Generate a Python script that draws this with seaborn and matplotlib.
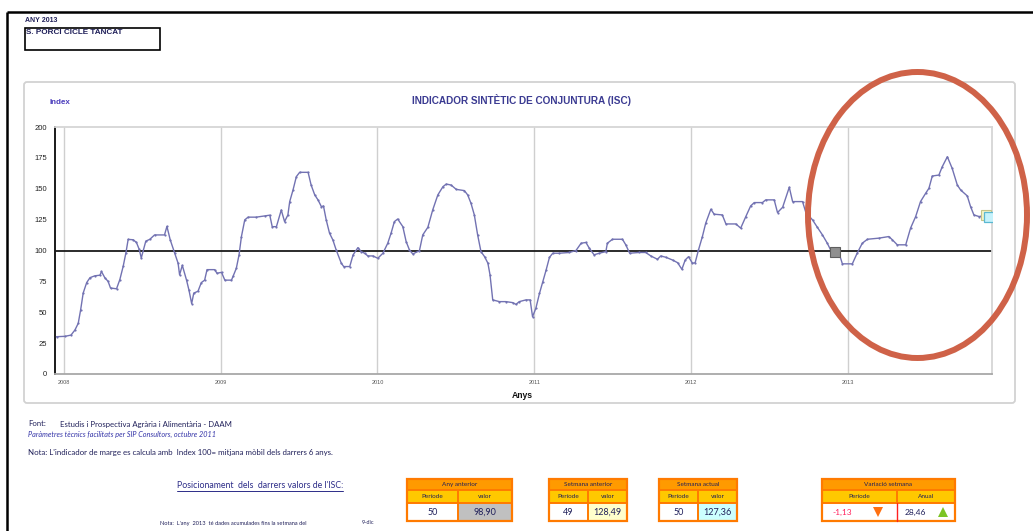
import matplotlib
matplotlib.use('Agg')
import matplotlib.pyplot as plt
import seaborn as sns
import pandas as pd
from matplotlib.patches import Ellipse, Rectangle, FancyBboxPatch
from matplotlib.ticker import MultipleLocator

# ---------------- data ----------------
# week index counted from the first week of 2008, ISC value
weeks_2008_2009 = [0.2, 3, 5, 6.3, 7.4, 8.2, 9.05, 10.2, 11.3, 12.9, 14.6, 15.1, 16.2, 17.3, 18.1, 20.1,
                   21.2, 22.3, 23.2, 23.95, 25.6, 26.7, 27.6, 28.3, 29.8, 31.1, 32.7, 36.0, 36.8, 37.9,
                   39.4, 40.5, 41.0, 41.9, 43.3, 44.1, 45.0, 45.7, 47.1, 48.2, 49.3, 50.1, 52.6, 53.4,
                   54.9, 56.0, 58.2, 58.7, 59.8, 60.7, 61.5, 62.6, 63.7, 66.4, 69.2, 70.9, 71.7, 73.1,
                   74.7, 75.8, 76.9, 77.5, 78.6, 79.7, 80.8, 83.6, 84.6, 85.8, 86.9, 88.0, 88.7, 89.6,
                   90.7, 91.8, 92.9, 94.6, 95.4, 97.4, 98.5, 100.1, 101.2, 102.3, 103.4, 105.1, 106.7, 108.4]
isc_2008_2009 = [30.2, 30.5, 31.5, 35.6, 41, 52, 65.6, 74, 78, 79.5, 80, 83, 78, 75, 69.6, 69,
                 76.5, 87.2, 98, 109, 108.7, 106.5, 101, 94, 107.6, 109, 112.6, 112.6, 119.5, 108.6,
                 97.8, 89.7, 80.3, 88, 76, 68, 57, 65.5, 67, 74, 76, 84.5, 84.5, 81.6,
                 82.3, 76, 76, 79, 85.5, 96.4, 111.3, 124.8, 127, 127, 128, 128.6, 119.3, 119.3,
                 132.8, 123.4, 128.8, 139.6, 149, 159.8, 163.3, 163.3, 153, 145, 140.9, 135.5, 136, 124.8,
                 114, 108.6, 100.5, 89.7, 87, 87, 96.4, 102.3, 99.1, 97.8, 95.6, 95.6, 93.7, 97.8]

weeks_2010_2011 = [110.0, 111.1, 112.2, 113.3, 115.0, 116.1, 117.2, 118.3, 120.5, 121.6, 123.3, 124.9,
                   126.6, 128.3, 129.4, 131.0, 132.7, 135.4, 136.5, 137.6, 138.7, 139.8, 140.9, 142.1,
                   143.2, 143.9, 144.8, 147.0, 149.2, 151.4, 152.5, 153.6, 155.8, 157.2, 158.0, 159.1,
                   160.3, 161.4, 162.5, 163.6, 164.7, 166.9, 170.2, 172.4, 174.1, 175.7, 176.8, 178.4,
                   180.1, 182.3, 182.8, 184.5, 187.8, 188.9, 190.2, 193.3, 195.5, 197.2, 199.4, 200.5,
                   202.2, 204.4, 206.1, 207.5, 208.6, 209.7, 211.0, 211.9, 213.0, 214.3, 215.4]
isc_2010_2011 = [105.9, 114, 123.4, 125.5, 119.3, 107.2, 100.4, 97.2, 99.8, 112.6, 118.8, 132.8,
                 145, 151.7, 153.8, 153, 149.5, 148.5, 145, 138.2, 128.8, 112.6, 99.1, 95,
                 89.7, 80.3, 60, 58.6, 58.6, 57.8, 56.4, 58.6, 60, 60, 46.4, 53.2,
                 65.3, 74.7, 84.2, 94.4, 97.8, 97.8, 98.4, 100, 105.9, 106.5, 101.9, 96.5,
                 97.8, 99.1, 105.9, 109.1, 109.1, 104.6, 97.8, 98.4, 98.4, 95.6, 92.9, 95.6,
                 94.5, 92.3, 90.1, 84.8, 92.3, 95, 89.7, 90.1, 100.4, 111.3, 122.1]

weeks_2012_2013 = [217.1, 218.2, 220.9, 222.1, 225.4, 227.0, 228.7, 230.3, 231.5, 234.2, 235.3, 238.1,
                   239.2, 240.9, 243.1, 244.2, 247.5, 248.6, 250.8, 252.4, 254.1, 255.7, 256.8, 258.3,
                   259.6, 260.7, 264.0, 265.6, 267.3, 269.0, 272.8, 276.1, 277.3, 278.9, 281.7, 283.3,
                   285.0, 286.6, 288.3, 289.4, 290.5, 292.7, 293.8, 295.5, 297.1, 298.8, 299.9, 302.1,
                   303.2, 304.3, 306.0, 308.3, 309.3]
isc_2012_2013 = [133.4, 129.4, 128.8, 121.5, 121.5, 118.1, 127.5, 136.1, 138.8, 138.8, 141, 141,
                 130.7, 135, 151.2, 139.6, 139.6, 130.7, 124.8, 118.8, 112.6, 105.9, 100.5, 98.9,
                 97.8, 89.2, 89.2, 97.8, 105.9, 109.1, 110, 111.3, 108.6, 104.6, 104.6, 118.1,
                 127.5, 139.6, 146.3, 150.4, 160.3, 161.1, 167.8, 175.9, 166.5, 153, 149, 144.2,
                 135.5, 128.8, 127.5, 128.49, 127.36]

year_labels = ['2008', '2009', '2010', '2011', '2012', '2013']
year_weeks = [2.6, 54.6, 106.6, 158.6, 210.6, 262.6]
y_ticks = [0, 25, 50, 75, 100, 125, 150, 175, 200]
base_index = 100

prev_year_point = (258.3, 98.90)
prev_week_point = (308.3, 128.49)
curr_week_point = (309.3, 127.36)

table_titles = ['Any anterior', 'Setmana anterior', 'Setmana actual', 'Variació setmana']
table_head1 = ['Període', 'Període', 'Període', 'Període']
table_head2 = ['valor', 'valor', 'valor', 'Anual']
table_val1 = ['50', '49', '50', '-1,13']
table_val2 = ['98,90', '128,49', '127,36', '28,46']

# ---------------- figure ----------------
sns.set_style('white')
plt.rcParams['font.family'] = ['Liberation Sans', 'DejaVu Sans']

W, H = 1033, 531
fig = plt.figure(figsize=(W / 100, H / 100), dpi=100)
fig.patch.set_facecolor('white')

df = pd.DataFrame({
    'week': weeks_2008_2009 + weeks_2010_2011 + weeks_2012_2013,
    'isc': isc_2008_2009 + isc_2010_2011 + isc_2012_2013,
})

ax = fig.add_axes([55 / W, 1 - 374 / H, (992 - 55) / W, (374 - 127) / H])
ax.set_facecolor('white')
ax.grid(False)
for xw in year_weeks:
    ax.axvline(xw, color='#cfcfcf', lw=1.0, zorder=0)
ax.axhline(base_index, color='#1a1a1a', lw=1.3, zorder=2)
sns.lineplot(data=df, x='week', y='isc', ax=ax, color='#7272b2', linewidth=1.0,
             marker='o', markersize=1.6, markeredgewidth=0, zorder=3)

ax.plot([prev_year_point[0]], [prev_year_point[1]], marker='s', markersize=6.5,
        markerfacecolor='#8f8f8f', markeredgecolor='#5e5e5e', markeredgewidth=0.8, zorder=5)
ax.plot([prev_week_point[0]], [prev_week_point[1]], marker='s', markersize=6.5,
        markerfacecolor='#f4f4c8', markeredgecolor='#c4c48a', markeredgewidth=0.8, zorder=5)
ax.plot([curr_week_point[0]], [curr_week_point[1]], marker='s', markersize=6.5,
        markerfacecolor='#c6f2fb', markeredgecolor='#5ab8d2', markeredgewidth=0.9, zorder=6)

ax.set_xlim(-0.3, 310.3)
ax.set_ylim(0, 200)
ax.set_xticks(year_weeks)
ax.set_xticklabels(year_labels, fontsize=4, color='#555555')
ax.set_yticks(y_ticks)
ax.set_yticklabels([str(v) for v in y_ticks], fontsize=5.5, color='#222222')
ax.yaxis.set_minor_locator(MultipleLocator(5))
ax.tick_params(axis='x', length=0, pad=4)
ax.tick_params(axis='y', which='major', length=3.5, width=0.8, direction='inout', pad=4, color='#222222')
ax.tick_params(axis='y', which='minor', length=2, width=0.5, direction='inout', color='#222222')
ax.set_xlabel('')
ax.set_ylabel('')
ax.spines['left'].set_color('#1a1a1a')
ax.spines['left'].set_linewidth(1.4)
ax.spines['bottom'].set_color('#a8a8a8')
ax.spines['bottom'].set_linewidth(1.3)
for s in ['top', 'right']:
    ax.spines[s].set_color('#d6d6d6')
    ax.spines[s].set_linewidth(1.3)

# ---------------- overlay in pixel coordinates ----------------
ov = fig.add_axes([0, 0, 1, 1])
ov.set_xlim(0, W)
ov.set_ylim(H, 0)
ov.axis('off')
ov.patch.set_alpha(0)

navy = '#20205a'
# outer page frame
ov.plot([7, 7], [12, H], color='black', lw=1.8, solid_capstyle='butt')
ov.plot([7, W], [12, 12], color='black', lw=1.8, solid_capstyle='butt')

ov.text(25, 20, 'ANY 2013', fontsize=5, fontweight='bold', color=navy, va='center', ha='left')
ov.add_patch(Rectangle((25, 28), 135, 22, fill=False, edgecolor='black', lw=1.2))
ov.text(26, 33, 'S. PORCI CICLE TANCAT', fontsize=5.9, fontweight='bold', color=navy, va='center', ha='left')

# chart frame
ov.add_patch(FancyBboxPatch((24, 82), 991, 321, boxstyle='round,pad=0,rounding_size=3',
                            fill=False, edgecolor='#d2d2d2', lw=1.3))
ov.text(50, 102, 'Index', fontsize=5.8, fontweight='bold', color='#4a3cbc', va='center', ha='left')
ov.text(521, 100, 'INDICADOR SINTÈTIC DE CONJUNTURA (ISC)', fontsize=7.2, fontweight='bold',
        color='#3b3b92', va='center', ha='center')
ov.text(522, 395, 'Anys', fontsize=6.2, fontweight='bold', color='#111111', va='center', ha='center')

# highlight ellipse
ov.add_patch(Ellipse((917.5, 215), 219, 286, fill=False, edgecolor='#cf6248', lw=4.3, zorder=10))

# footnotes
small = ['Lato', 'DejaVu Sans']
ov.text(28, 424, 'Font:', fontsize=5.6, color=navy, va='center', ha='left', family=small)
ov.text(60, 424, 'Estudis i Prospectiva Agrària i Alimentària - DAAM', fontsize=5.6, color=navy,
        va='center', ha='left', family=small)
ov.text(28, 434, 'Paràmetres tècnics facilitats per SIP Consultors, octubre 2011', fontsize=5.2,
        style='italic', color='#3434a8', va='center', ha='left', family=small)
ov.text(28, 453, "Nota: L'indicador de marge es calcula amb  Index 100= mitjana mòbil dels darrers 6 anys.",
        fontsize=5.7, color=navy, va='center', ha='left', family=small)
ov.text(177, 485, "Posicionament  dels  darrers valors de l'ISC:", fontsize=6.3, color='#2c2c88',
        va='center', ha='left', family=small)
ov.plot([177, 343], [490.5, 490.5], color='#2c2c88', lw=0.7)
ov.text(160, 523, "Nota:  L'any  2013  té dades acumulades fins la setmana del", fontsize=4.1,
        color=navy, va='center', ha='left', family=small)
ov.text(362, 523, '9-dic', fontsize=4.1, color=navy, va='center', ha='left', family=small)

# tables
tables_x = [(407, 458, 512), (549, 588, 627), (659, 698, 737), (822, 897, 955)]
val2_bg = ['#c0c0c0', '#ffffcc', '#ccffff', 'white']
orange = '#ff7a00'
for i, (x0, xm, x1) in enumerate(tables_x):
    ov.add_patch(Rectangle((x0, 479), x1 - x0, 42, facecolor='white', edgecolor='none'))
    ov.add_patch(Rectangle((x0, 479), x1 - x0, 11, facecolor='#ff9a00', edgecolor='none'))
    ov.add_patch(Rectangle((x0, 490), x1 - x0, 13, facecolor='#ffc800', edgecolor='none'))
    ov.add_patch(Rectangle((xm, 503), x1 - xm, 18, facecolor=val2_bg[i], edgecolor='none'))
    ov.add_patch(Rectangle((x0, 479), x1 - x0, 42, fill=False, edgecolor=orange, lw=1.6))
    ov.plot([x0, x1], [490, 490], color=orange, lw=1.4)
    ov.plot([x0, x1], [503, 503], color=orange, lw=1.4)
    ov.plot([xm, xm], [490, 503], color=orange, lw=1.4)
    ov.plot([xm, xm], [503, 521], color='#ff2020' if i == 3 else orange, lw=1.0 if i == 3 else 1.4)
    ov.text((x0 + x1) / 2, 484.5, table_titles[i], fontsize=4.6, color=navy, ha='center', va='center',
            family=small)
    ov.text((x0 + xm) / 2, 497, table_head1[i], fontsize=4.6, color=navy, ha='center', va='center',
            family=small)
    ov.text((xm + x1) / 2, 497, table_head2[i], fontsize=4.6, color=navy, ha='center', va='center',
            family=small)
    if i < 3:
        ov.text((x0 + xm) / 2, 512.5, table_val1[i], fontsize=6.5, color=navy, ha='center', va='center',
                family=small)
        ov.text((xm + x1) / 2, 512.5, table_val2[i], fontsize=6.5, color=navy, ha='center', va='center',
                family=small)
    else:
        ov.text(832, 512.5, table_val1[i], fontsize=6, color='#ff1f5a', ha='left', va='center',
                family=small)
        ov.text(905, 512.5, table_val2[i], fontsize=6, color=navy, ha='left', va='center',
                family=small)
        ov.plot([878], [512], marker='v', markersize=7.5, color='#ff7010', markeredgewidth=0)
        ov.plot([943], [512], marker='^', markersize=7.5, color='#7cc424', markeredgewidth=0)

fig.savefig('out.png', dpi=100, facecolor='white')
